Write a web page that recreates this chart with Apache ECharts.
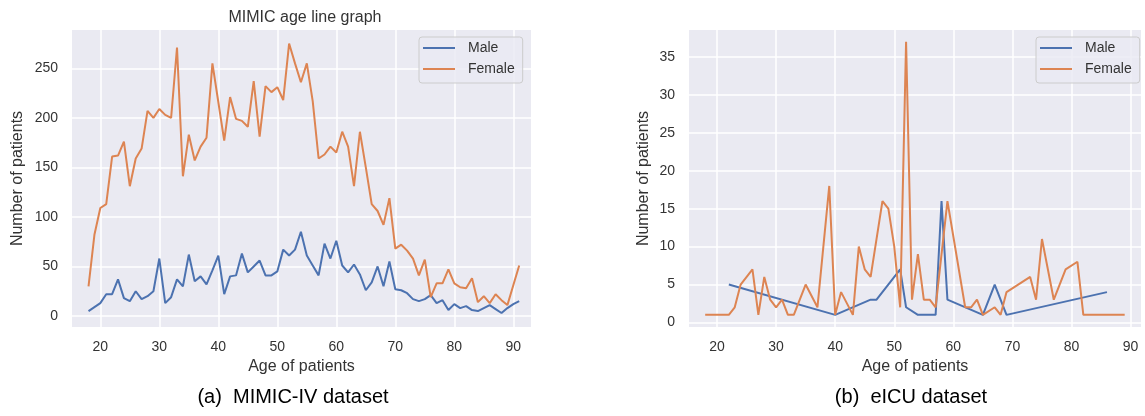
<!DOCTYPE html>
<html>
<head>
<meta charset="utf-8">
<script src="https://cdn.jsdelivr.net/npm/echarts@6/dist/echarts.min.js"></script>
<style>
html,body{margin:0;padding:0;background:#ffffff;}
#c{width:1145px;height:416px;}
</style>
</head>
<body>
<div id="c"></div>
<script>
// ---------- MIMIC-IV (left panel) ----------
const mimicAges = [18,19,20,21,22,23,24,25,26,27,28,29,30,31,32,33,34,35,36,37,38,39,40,41,42,43,44,45,46,47,48,49,50,51,52,53,54,55,56,57,58,59,60,61,62,63,64,65,66,67,68,69,70,71,72,73,74,75,76,77,78,79,80,81,82,83,84,85,86,87,88,89,90,91];
const mimicMale = [5,9,13,22,22,37,18,15,25,17,20,25,58,13,19,37,30,62,35,40,32,46,61,22,40,41,63,44,50,56,41,41,45,67,61,67,85,61,51,41,73,58,76,51,44,52,42,26,34,50,30,55,27,26,23,17,15,17,21,13,16,6,12,8,10,6,5,8,11,7,3,8,12,15];
const mimicFemale = [30,82,109,113,161,162,176,131,159,169,207,200,209,203,200,271,141,183,157,171,180,255,216,177,221,199,197,191,237,181,232,226,231,218,275,255,236,255,217,159,163,171,165,186,171,131,186,150,113,106,92,119,68,72,66,58,41,57,19,33,33,47,33,29,28,38,14,20,13,22,16,11,31,51];

// ---------- eICU (right panel) ----------
const eicuMaleAges = [22,40,46,47,51,52,54,57,58,59,65,67,69,86];
const eicuMale = [5,1,3,3,7,2,1,1,16,3,1,5,1,4];
const eicuFemaleAges = [18,22,23,24,26,27,28,29,30,31,32,33,35,37,39,40,41,43,44,45,46,48,49,50,51,52,53,54,55,56,57,59,62,63,64,65,67,68,69,73,74,75,77,79,81,82,89];
const eicuFemale = [1,1,2,5,7,1,6,3,2,3,1,1,5,2,18,1,4,1,10,7,6,16,15,10,2,37,3,9,3,3,2,16,2,2,3,1,2,1,4,6,3,11,3,7,8,1,1];

// ---------- labels ----------
const seriesNames = ['Male', 'Female'];
const titleText = 'MIMIC age line graph';
const xName = 'Age of patients';
const yName = 'Number of patients';
const captionA = '(a)  MIMIC-IV dataset';
const captionB = '(b)  eICU dataset';

const FONT = 'Liberation Sans';
const TXT = '#333333';
const BLUE = '#4C72B0';
const ORANGE = '#DD8452';
const BG = '#EAEAF2';

function pairs(xs, ys) { return xs.map(function (x, i) { return [x, ys[i]]; }); }

function xAxisCfg(gi, min, max) {
  return {
    type: 'value', gridIndex: gi, min: min, max: max, splitNumber: 8,
    name: xName, nameLocation: 'middle', nameGap: 31,
    nameTextStyle: { fontFamily: FONT, fontSize: 16, color: TXT },
    axisLine: { show: false }, axisTick: { show: false },
    axisLabel: {
      margin: 13, fontFamily: FONT, fontSize: 14, color: TXT,
      showMinLabel: false, showMaxLabel: false,
      formatter: function (v) { return (Math.abs(v % 10) < 1e-9) ? String(v) : ''; }
    },
    splitLine: { show: true, showMinLine: false, showMaxLine: false, lineStyle: { color: '#ffffff', width: 1.5 } }
  };
}
function yAxisCfg(gi, min, max, split, step, gap) {
  return {
    type: 'value', gridIndex: gi, min: min, max: max, splitNumber: split,
    name: yName, nameLocation: 'middle', nameGap: gap,
    nameTextStyle: { fontFamily: FONT, fontSize: 16, color: TXT },
    axisLine: { show: false }, axisTick: { show: false },
    axisLabel: {
      margin: 14, fontFamily: FONT, fontSize: 14, color: TXT,
      showMinLabel: false, showMaxLabel: false,
      formatter: function (v) { return (Math.abs(v % step) < 1e-9) ? String(v) : ''; }
    },
    splitLine: { show: true, showMinLine: false, showMaxLine: false, lineStyle: { color: '#ffffff', width: 1.5 } }
  };
}
function lineSeries(name, xi, data, color) {
  return {
    type: 'line', name: name, xAxisIndex: xi, yAxisIndex: xi, data: data,
    showSymbol: false, symbol: 'none', smooth: false,
    lineStyle: { color: color, width: 2 }, itemStyle: { color: color },
    emphasis: { disabled: true }, animation: false
  };
}
function legendCfg(left) {
  return {
    data: seriesNames, orient: 'vertical', left: left, top: 37,
    icon: 'rect', itemWidth: 32, itemHeight: 2, itemGap: 5,
    padding: [3, 8, 6, 4],
    backgroundColor: 'rgba(234,234,242,0.8)', borderColor: '#cccccc', borderWidth: 1, borderRadius: 3,
    textStyle: { fontFamily: FONT, fontSize: 14, color: TXT, lineHeight: 16, padding: [0, 0, 0, 8] },
    selectedMode: false
  };
}

const chart = echarts.init(document.getElementById('c'), null, { renderer: 'canvas' });
chart.setOption({
  animation: false,
  backgroundColor: '#ffffff',
  title: [{
    text: titleText, left: 300, top: 5, textAlign: 'center',
    textStyle: { fontFamily: FONT, fontSize: 16, fontWeight: 'normal', color: TXT }
  }],
  grid: [
    { left: 72, top: 30, width: 459, height: 297, show: true, backgroundColor: BG, borderWidth: 0 },
    { left: 689, top: 30, width: 452, height: 297, show: true, backgroundColor: BG, borderWidth: 0 }
  ],
  xAxis: [xAxisCfg(0, 15.2, 93.0), xAxisCfg(1, 15.26, 91.76)],
  yAxis: [yAxisCfg(0, -11.1, 288.7, 6, 50, 46), yAxisCfg(1, -0.6, 38.56, 8, 5, 37)],
  legend: [legendCfg(419), legendCfg(1036)],
  series: [
    lineSeries('Male', 0, pairs(mimicAges, mimicMale), BLUE),
    lineSeries('Female', 0, pairs(mimicAges, mimicFemale), ORANGE),
    lineSeries('Male', 1, pairs(eicuMaleAges, eicuMale), BLUE),
    lineSeries('Female', 1, pairs(eicuFemaleAges, eicuFemale), ORANGE)
  ],
  graphic: [
    { type: 'text', x: 293, y: 397, style: { text: captionA, fontFamily: FONT, fontSize: 20, fill: '#000000', textAlign: 'center', textVerticalAlign: 'middle' } },
    { type: 'text', x: 911, y: 397, style: { text: captionB, fontFamily: FONT, fontSize: 20, fill: '#000000', textAlign: 'center', textVerticalAlign: 'middle' } }
  ]
});
</script>
</body>
</html>
